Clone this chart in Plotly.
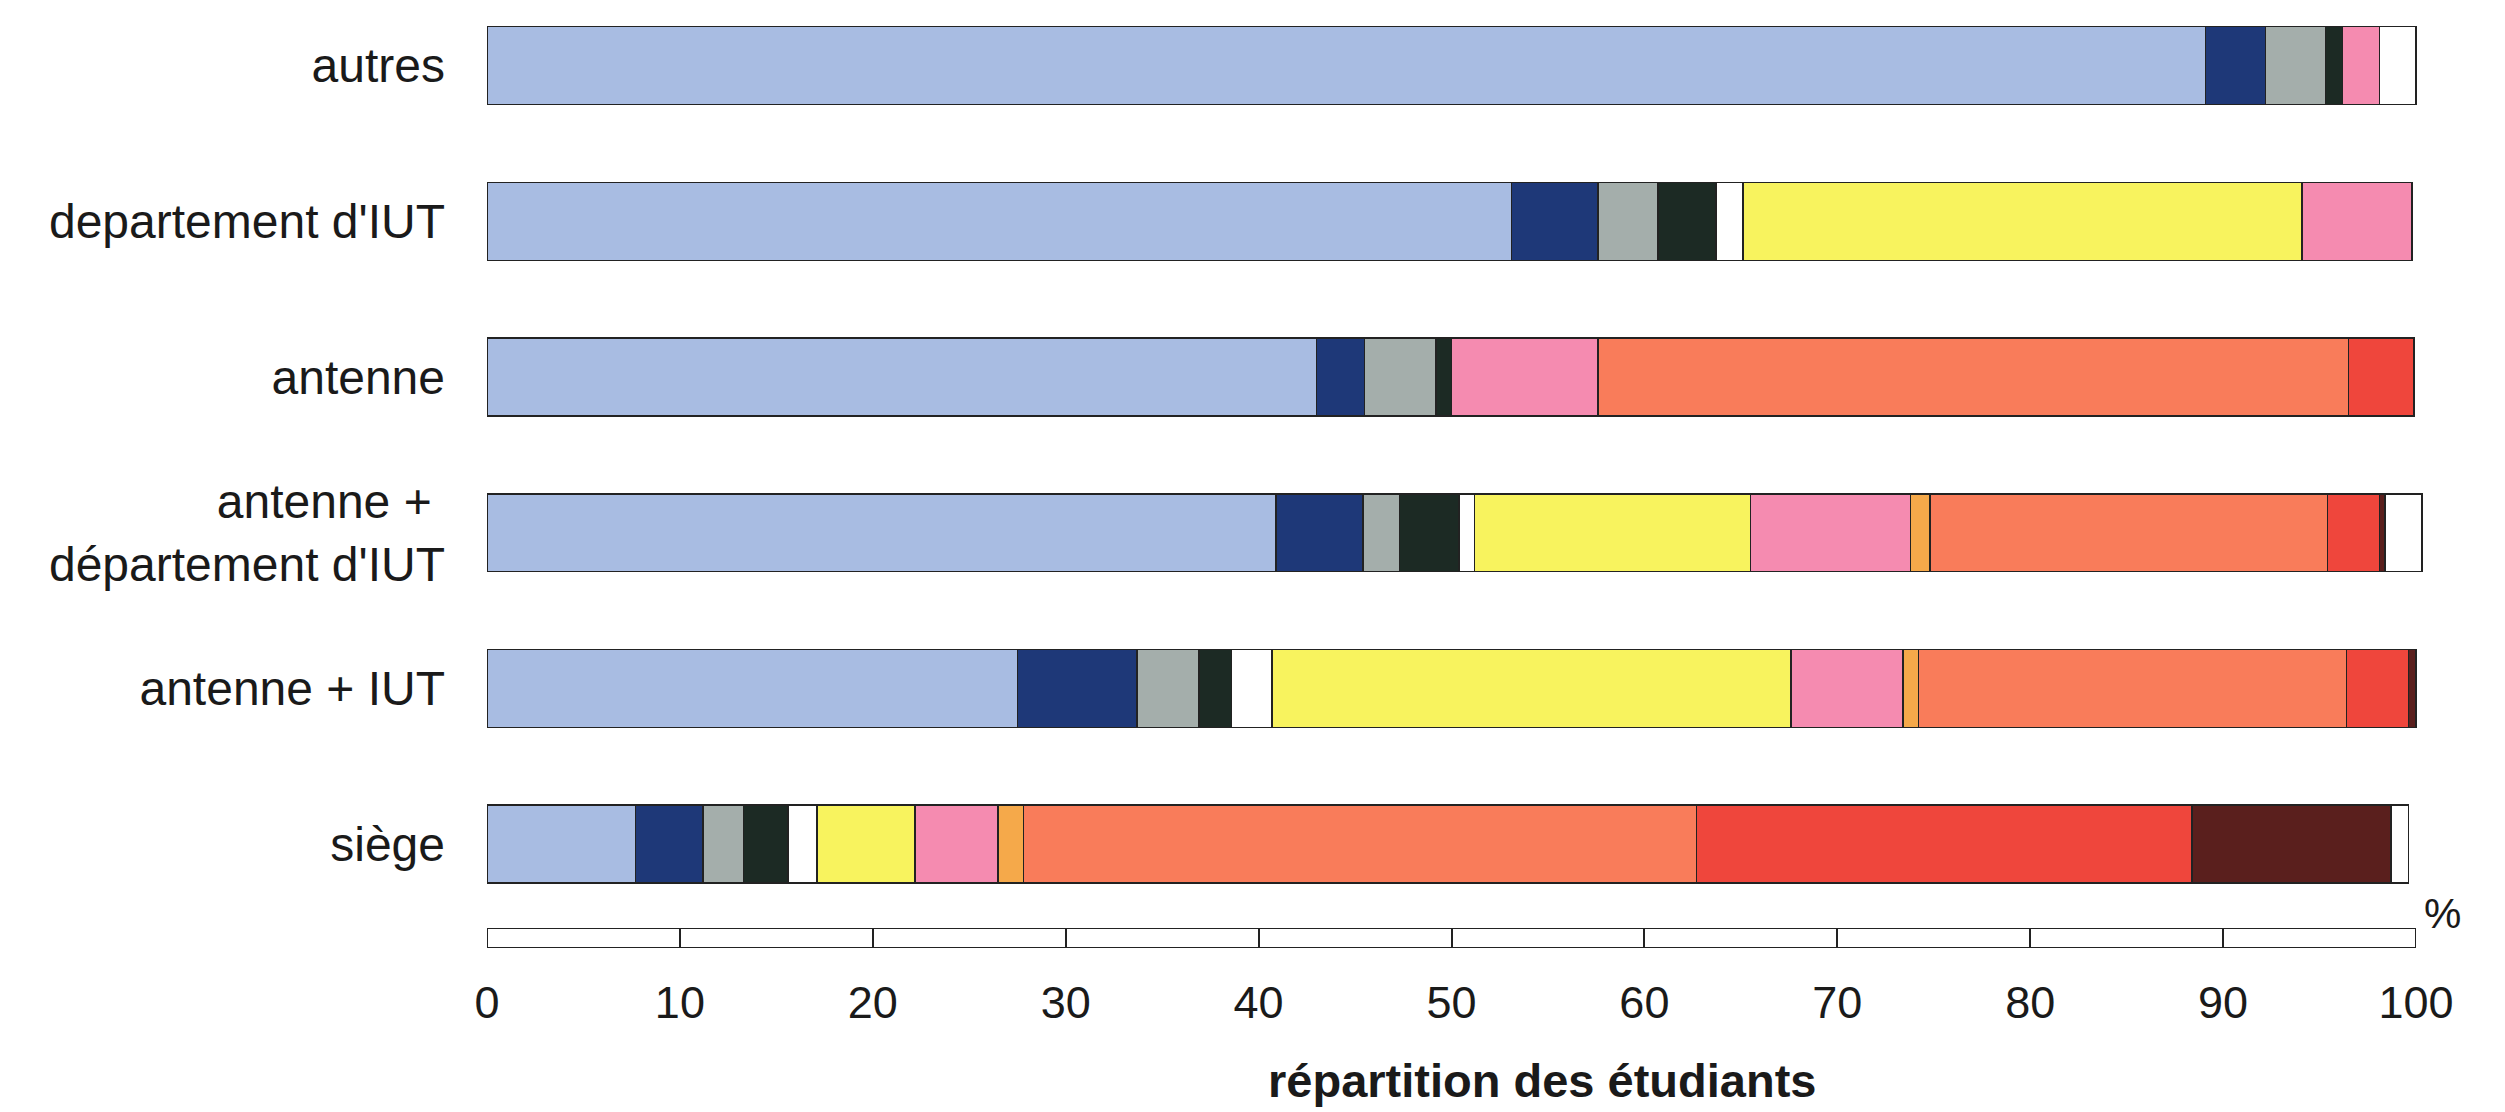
import plotly.graph_objects as go

categories = ["autres", "departement d'IUT", "antenne",
              "antenne + <br>département d'IUT", "antenne + IUT", "siège"]

blue      = [89.1, 53.1, 43.0, 40.9, 27.5, 7.7]
navy      = [3.1, 4.5, 2.5, 4.5, 6.2, 3.5]
gray      = [3.1, 3.1, 3.7, 1.9, 3.2, 2.1]
darkgreen = [0.9, 3.0, 0.8, 3.1, 1.7, 2.3]
white1    = [None, 1.4, None, 0.8, 2.1, 1.5]
yellow    = [None, 29.0, None, 14.3, 26.9, 5.1]
pink      = [1.9, 5.7, 7.6, 8.3, 5.8, 4.3]
orange    = [None, None, None, 1.0, 0.8, 1.3]
salmon    = [None, None, 38.9, 20.6, 22.2, 34.9]
red       = [None, None, 3.4, 2.7, 3.2, 25.7]
brown     = [None, None, None, 0.3, 0.4, 10.3]
white2    = [1.9, None, None, 1.9, None, 0.9]

series = [
    ("s1", blue, "#a8bce2"),
    ("s2", navy, "#1e3878"),
    ("s3", gray, "#a4aeab"),
    ("s4", darkgreen, "#1c2a24"),
    ("s5", white1, "#ffffff"),
    ("s6", yellow, "#f8f35e"),
    ("s7", pink, "#f58bb0"),
    ("s8", orange, "#f5a94a"),
    ("s9", salmon, "#f97c5a"),
    ("s10", red, "#ef463c"),
    ("s11", brown, "#5a1f1d"),
    ("s12", white2, "#ffffff"),
]

scale_total = [100]
scale_ticks = [0, 10, 20, 30, 40, 50, 60, 70, 80, 90, 100]

W, H = 2505, 1112
L, R = 479, 85
X0, X100 = 479, 2408
plot_w = W - L - R
x_frac = (X100 - X0) / plot_w

fig = go.Figure()
for name, vals, col in series:
    fig.add_trace(go.Bar(
        y=categories, x=vals, orientation="h", name=name,
        marker=dict(color=col, line=dict(color="#222222", width=1.5)),
        width=0.5, xaxis="x", yaxis="y", showlegend=False,
    ))

fig.add_trace(go.Bar(
    y=[0], x=scale_total, orientation="h",
    marker=dict(color="white", line=dict(color="#222222", width=2.5)),
    width=1, xaxis="x2", yaxis="y2", showlegend=False,
))

fig.update_layout(
    width=W, height=H,
    margin=dict(l=L, r=R, t=0, b=0),
    barmode="stack",
    plot_bgcolor="white", paper_bgcolor="white",
    font=dict(family="Liberation Sans, Arial, sans-serif", color="#1a1a1a"),
    xaxis=dict(visible=False, range=[0, 100 / x_frac], domain=[0, 1], anchor="y"),
    yaxis=dict(domain=[1 - 895 / H, 1 - 10 / H], range=[5.378, -0.306],
               type="category", showgrid=False, zeroline=False,
               showline=False, ticks="", ticklabelstandoff=41,
               tickfont=dict(size=48, family="Liberation Sans, Arial, sans-serif")),
    xaxis2=dict(range=[0, 100], domain=[0, x_frac], anchor="y2",
                tickvals=scale_ticks, ticks="inside", ticklen=19,
                tickwidth=2, tickcolor="#222222", showgrid=False,
                zeroline=False, showline=False, ticklabelstandoff=24,
                tickfont=dict(size=45, family="Liberation Sans, Arial, sans-serif")),
    yaxis2=dict(domain=[1 - 940 / H, 1 - 920 / H], range=[-0.5, 0.5],
                visible=False),
    annotations=[
        dict(text="<b>répartition des étudiants</b>", xref="paper", yref="paper",
             x=(1534 - L) / plot_w, y=1 - 1072 / H, showarrow=False,
             xanchor="center", yanchor="middle",
             font=dict(size=47, family="Liberation Sans, Arial, sans-serif")),
        dict(text="%", xref="paper", yref="paper",
             x=(2434 - L) / plot_w, y=1 - 905 / H, showarrow=False,
             xanchor="center", yanchor="middle",
             font=dict(size=42, family="Liberation Sans, Arial, sans-serif")),
    ],
)

fig.write_html("out.html")
